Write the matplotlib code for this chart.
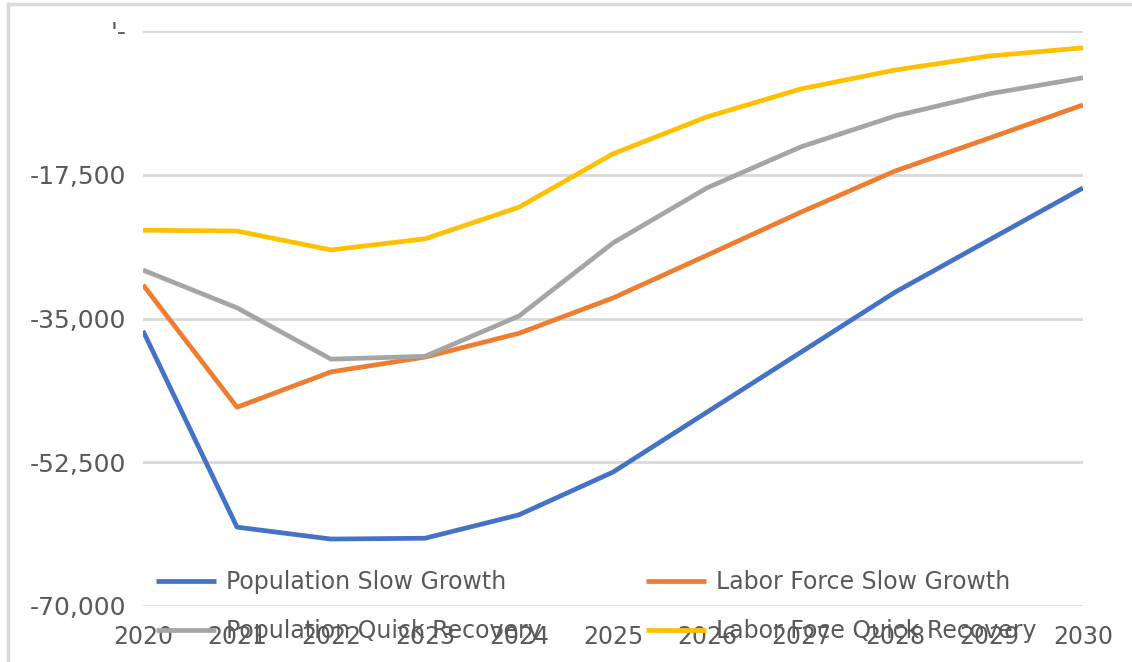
import matplotlib.pyplot as plt
from matplotlib.lines import Line2D
from matplotlib.ticker import FuncFormatter

# --- Data ---
years = list(range(2020, 2031))

pop_slow = [-36500, -60400, -61850, -61750, -58900, -53700, -46400, -39100, -31800, -25450, -19100]
labor_slow = [-30900, -45800, -41500, -39700, -36800, -32500, -27300, -22050, -17050, -13050, -9000]
pop_quick = [-29100, -33700, -39950, -39600, -34700, -25800, -19100, -14100, -10350, -7650, -5700]
labor_quick = [-24250, -24350, -26650, -25300, -21450, -14950, -10450, -7050, -4750, -3050, -2050]

series = [
    ("Population Slow Growth", pop_slow, "#4472C4"),
    ("Labor Force Slow Growth", labor_slow, "#ED7D31"),
    ("Population Quick Recovery", pop_quick, "#A5A5A5"),
    ("Labor Foce Quick Recovery", labor_quick, "#FFC000"),
]

y_ticks = [-70000, -52500, -35000, -17500, 0]

TEXT = "#595959"
GRID = "#D9D9D9"

fig = plt.figure(figsize=(11.32, 6.62), dpi=100)
ax = fig.add_axes([143 / 1132, 1 - 606 / 662, (1083 - 143) / 1132, (606 - 31) / 662])

for name, vals, col in series:
    ax.plot(years, vals, color=col, lw=3.4, solid_capstyle="butt", zorder=3)

ax.set_xlim(2020, 2030)
ax.set_ylim(-70000, 0)
ax.set_yticks(y_ticks)
ax.set_xticks(years)


def fmt(v, pos):
    if v == 0:
        return "'-"
    return f"{v:,.0f}"


ax.yaxis.set_major_formatter(FuncFormatter(fmt))
ax.grid(axis="y", color=GRID, lw=2)
ax.set_axisbelow(True)
for s in ax.spines.values():
    s.set_visible(False)
ax.tick_params(axis="both", length=0, colors=TEXT)
ax.tick_params(axis="y", pad=12, labelsize=18)
ax.tick_params(axis="x", pad=14, labelsize=17)

# legend sits over the bottom of the plot, filled row by row
order = [0, 2, 1, 3]
handles = [Line2D([], [], color=series[i][2], lw=3.4, solid_capstyle="butt") for i in order]
labels = [series[i][0] for i in order]
leg = fig.legend(handles, labels, ncol=2, frameon=False, fontsize=17,
                 labelcolor=TEXT, loc="upper left",
                 bbox_to_anchor=(135 / 1132, 1 - 549 / 662),
                 handlelength=2.55, handletextpad=0.42, columnspacing=4.4,
                 labelspacing=1.05)
leg.set_zorder(5)

# outer chart border (top and left edges)
fig.add_artist(Line2D([8 / 1132, 1], [1 - 4 / 662, 1 - 4 / 662], color=GRID, lw=2.5))
fig.add_artist(Line2D([8 / 1132, 8 / 1132], [0, 1 - 4 / 662], color=GRID, lw=2.5))

fig.savefig("out.png", dpi=100)
